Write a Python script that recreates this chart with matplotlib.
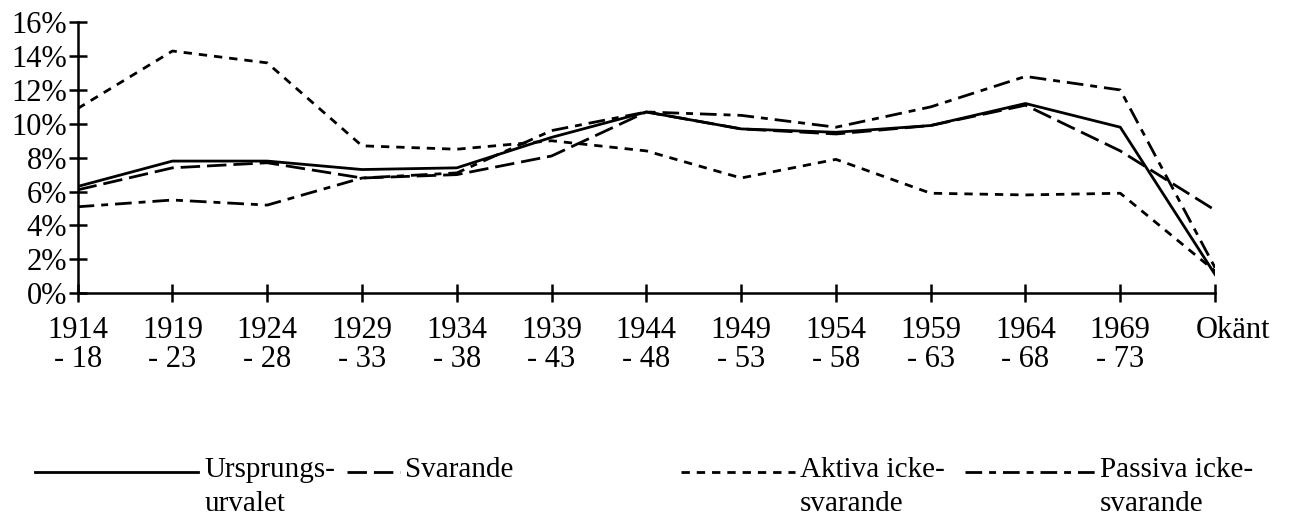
import matplotlib.pyplot as plt
from matplotlib.lines import Line2D
from matplotlib.ticker import FuncFormatter
from matplotlib.transforms import ScaledTranslation

# periods on the x axis
perioder = ["1914\n- 18", "1919\n- 23", "1924\n- 28", "1929\n- 33", "1934\n- 38",
            "1939\n- 43", "1944\n- 48", "1949\n- 53", "1954\n- 58", "1959\n- 63",
            "1964\n- 68", "1969\n- 73", "Okänt"]

# percent per period
ursprungsurvalet = [6.3, 7.8, 7.8, 7.3, 7.4, 9.2, 10.7, 9.7, 9.5, 9.9, 11.2, 9.8, 1.1]
svarande = [6.1, 7.4, 7.7, 6.8, 7.0, 8.1, 10.7, 9.7, 9.4, 9.9, 11.1, 8.4, 4.9]
aktiva = [10.9, 14.3, 13.6, 8.7, 8.5, 9.0, 8.4, 6.8, 7.9, 5.9, 5.8, 5.9, 1.3]
passiva = [5.1, 5.5, 5.2, 6.8, 7.1, 9.6, 10.7, 10.5, 9.8, 11.0, 12.8, 12.0, 1.5]

serier = [
    ("Ursprungs-\nurvalet", ursprungsurvalet, "-"),
    ("Svarande", svarande, (0, (7, 2.5))),
    ("Aktiva icke-\nsvarande", aktiva, (0, (3, 2.5))),
    ("Passiva icke-\nsvarande", passiva, (0, (6, 2.5, 2.5, 2.5))),
]

plt.rcParams['font.family'] = ['Liberation Serif', 'DejaVu Serif']

fig = plt.figure(figsize=(12.94, 5.17), dpi=100)
ax = fig.add_axes([0.060, 0.433, 0.879, 0.524])

x = list(range(len(perioder)))
for namn, vals, ls in serier:
    ax.plot(x, vals, color="black", lw=2.0, linestyle=ls)

ax.set_xlim(0, len(perioder) - 1)
ax.set_ylim(0, 16)
ax.set_xticks(x)
ax.set_xticklabels(perioder, fontsize=22, linespacing=1.0)
ax.set_yticks(range(0, 17, 2))
ax.yaxis.set_major_formatter(FuncFormatter(lambda v, p: "%d%%" % v))
ax.tick_params(axis="y", labelsize=22, direction="inout", length=13, width=1.8, pad=1)
ax.tick_params(axis="x", direction="inout", length=13, width=1.8, pad=10)

# "Okänt" sits a bit right of its tick in the original
okant = ax.get_xticklabels()[-1]
okant.set_transform(okant.get_transform() + ScaledTranslation(0.18, 0, fig.dpi_scale_trans))

for s in ["top", "right"]:
    ax.spines[s].set_visible(False)
for s in ["left", "bottom"]:
    ax.spines[s].set_linewidth(1.8)

# legend drawn by hand: key line at first text row, label wraps below
nycklar = [(0.027, 0.153, 0.158), (0.268, 0.309, 0.313), (0.526, 0.614, 0.618), (0.746, 0.846, 0.850)]
for (namn, vals, ls), (x0, x1, xt) in zip(serier, nycklar):
    fig.add_artist(Line2D([x0, x1], [0.088, 0.088], transform=fig.transFigure,
                          color="black", lw=2.0, linestyle=ls))
    fig.text(xt, 0.116, namn, fontsize=21, va="top", ha="left", linespacing=1.4)

fig.savefig("out.png", dpi=100)
